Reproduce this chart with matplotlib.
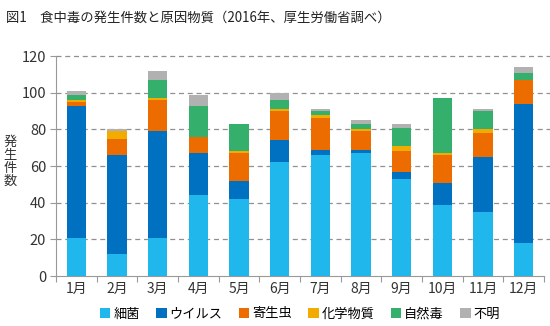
import numpy as np
import matplotlib
matplotlib.use('Agg')
import matplotlib.pyplot as plt

plt.rcParams['font.family'] = ['Noto Sans CJK JP', 'DejaVu Sans']

# monthly counts by cause
months = ['1月', '2月', '3月', '4月', '5月', '6月', '7月', '8月', '9月', '10月', '11月', '12月']
bacteria = [21, 12, 21, 44, 42, 62, 66, 67, 53, 39, 35, 18]
virus = [72, 54, 58, 23, 10, 12, 3, 2, 4, 12, 30, 76]
parasite = [2, 9, 17, 9, 15, 16, 17, 10, 11, 15, 13, 13]
chemical = [1, 4, 1, 0, 1, 1, 2, 1, 3, 1, 2, 0]
natural = [3, 0, 10, 17, 15, 5, 2, 3, 10, 30, 10, 4]
unknown = [2, 1, 5, 6, 0, 4, 1, 2, 2, 0, 1, 3]

names = ['細菌', 'ウイルス', '寄生虫', '化学物質', '自然毒', '不明']
series = [bacteria, virus, parasite, chemical, natural, unknown]
colors = ['#20b8ec', '#0071c0', '#ec6c00', '#f2ac00', '#34b06c', '#b1b1b1']

fig = plt.figure(figsize=(5.5, 3.26), dpi=100)
ax = fig.add_axes([56/550, 50/326, 488/550, 220/326])

x = np.arange(len(months))
bottom = np.zeros(len(months))
for vals, name, c in zip(series, names, colors):
    ax.bar(x, vals, width=0.47, bottom=bottom, color=c, label=name, zorder=3)
    bottom += np.array(vals)

ax.set_xlim(-0.5, 11.5)
ax.set_ylim(0, 120)
ax.set_yticks(np.arange(0, 121, 20))
for y in np.arange(20, 121, 20):
    ax.axhline(y, xmin=0, xmax=1.013, color='#909090', lw=0.9,
               ls=(0, (4, 3)), zorder=1, clip_on=False)

ax.set_xticks(x)
ax.set_xticklabels(months)
ax.set_xticks(np.arange(-0.5, 12, 1), minor=True)
ax.tick_params(axis='x', which='major', length=0, labelsize=10, pad=4, colors='#333333')
ax.tick_params(axis='x', which='minor', length=4, color='#999999', width=0.8)
ax.tick_params(axis='y', length=4, color='#999999', width=0.8, labelsize=10.5,
               pad=3, colors='#333333')
ax.tick_params(axis='y', colors='#999999', labelcolor='#333333')

for s in ['top', 'right']:
    ax.spines[s].set_visible(False)
for s in ['left', 'bottom']:
    ax.spines[s].set_color('#999999')
    ax.spines[s].set_linewidth(0.8)

fig.text(6/550, 1 - 18/326, '図1　食中毒の発生件数と原因物質（2016年、厚生労働省調べ）',
         fontsize=9.6, va='center', ha='left', color='#222222')
fig.text(10/550, 1 - 162/326, '発\n生\n件\n数', fontsize=9.5, va='center',
         ha='center', color='#333333', linespacing=1.0)

fig.legend(loc='center', bbox_to_anchor=(300/550, 1 - 314/326), ncol=6,
           frameon=False, fontsize=9.5, handlelength=0.8, handleheight=0.8,
           handletextpad=0.2, columnspacing=1.25, borderaxespad=0)

fig.savefig('out.png', dpi=100)
